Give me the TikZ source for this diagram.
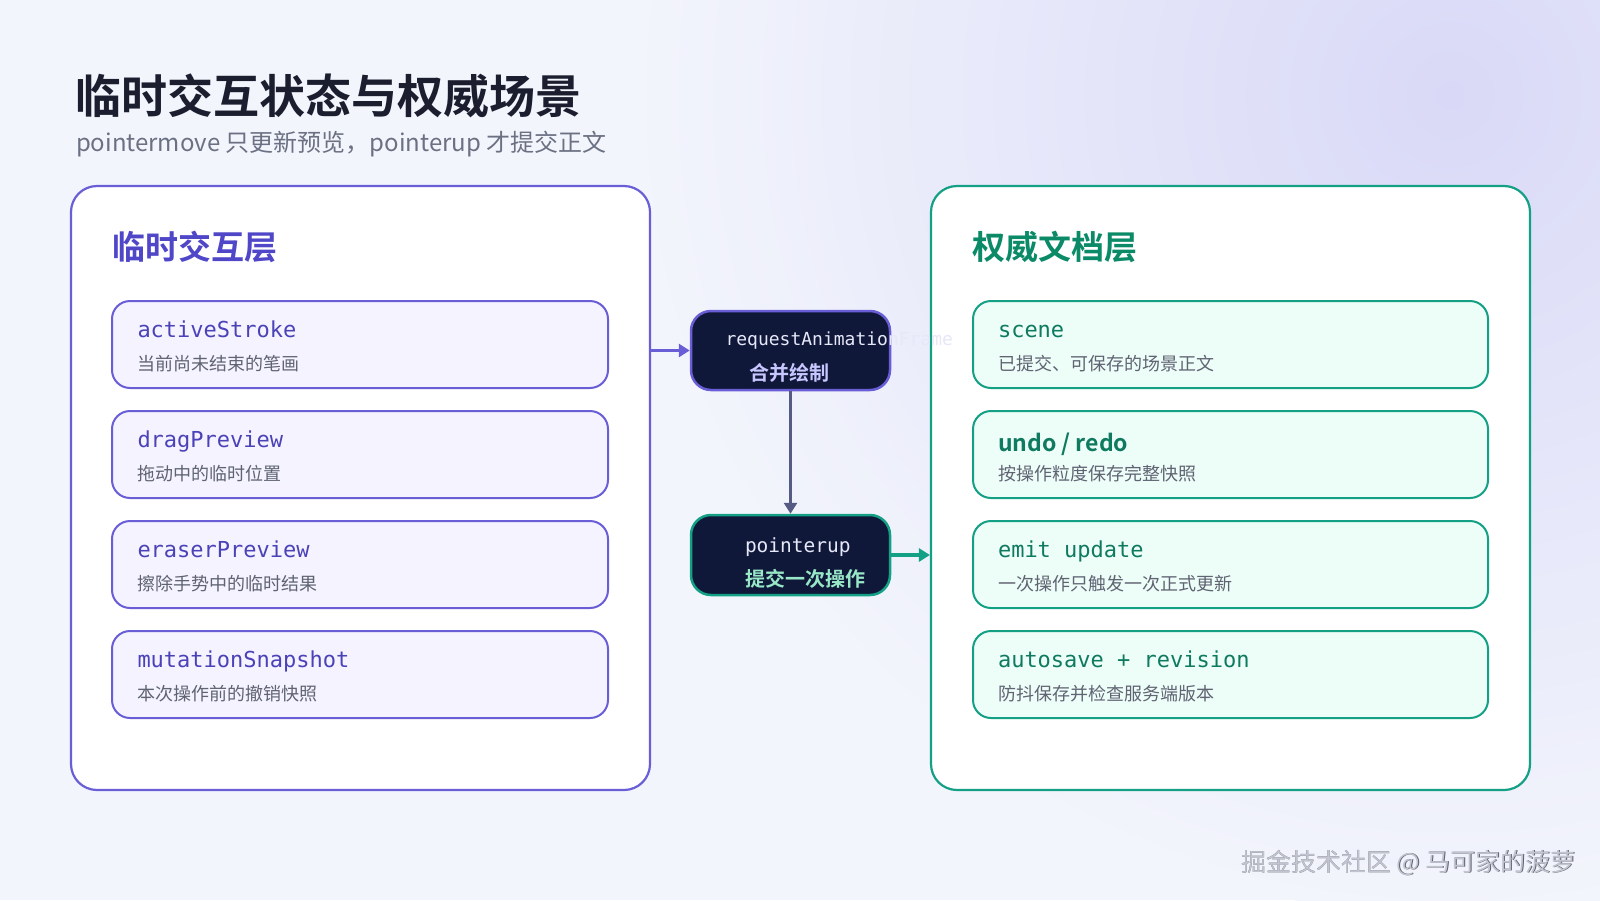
\documentclass[tikz,border=0pt]{standalone}
\usepackage{fontspec}
\setmainfont{Noto Sans}
\newfontfamily\cjk{Noto Sans CJK SC}[BoldFont={Noto Sans CJK SC Bold}]
\newfontfamily\mono{DejaVu Sans Mono}
\usetikzlibrary{arrows.meta}
\definecolor{bgc}{HTML}{F3F5FC}
\definecolor{glow}{HTML}{D9D9F7}
\definecolor{titlec}{HTML}{1B1E2E}
\definecolor{subc}{HTML}{6B7183}
\definecolor{lborder}{HTML}{6A5ED6}
\definecolor{lcardfill}{HTML}{F4F3FF}
\definecolor{lname}{HTML}{4B42B8}
\definecolor{ltitle}{HTML}{4F46C8}
\definecolor{graytext}{HTML}{5F6372}
\definecolor{gborder}{HTML}{13A085}
\definecolor{gcardfill}{HTML}{EDFDF8}
\definecolor{gname}{HTML}{0E7A5F}
\definecolor{gtitle}{HTML}{0B8A68}
\definecolor{nodefill}{HTML}{10183A}
\definecolor{midarrow}{HTML}{555B82}
\definecolor{lavtext}{HTML}{C8C6FF}
\definecolor{mint}{HTML}{98E8C8}
\definecolor{monowhite}{HTML}{E6E8F8}
\definecolor{wmshadow}{HTML}{5C5F6C}
\definecolor{wmmain}{HTML}{C2C4CF}
\tikzset{
  panel/.style={fill=white, line width=2.2pt, rounded corners=26pt, minimum height=604pt, inner sep=0},
  lcard/.style={draw=lborder, fill=lcardfill, line width=2pt, rounded corners=18pt, minimum width=496pt, minimum height=87pt, inner sep=0},
  gcard/.style={draw=gborder, fill=gcardfill, line width=2pt, rounded corners=18pt, minimum width=515pt, minimum height=87pt, inner sep=0},
  dnode/.style={fill=nodefill, line width=2.5pt, rounded corners=20pt, minimum width=199pt, minimum height=79pt, inner sep=0},
  txt/.style={anchor=base west, inner sep=0, outer sep=0},
  lnametxt/.style={txt, font=\mono\fontsize{22}{26}\selectfont, text=lname},
  gnametxt/.style={txt, font=\mono\fontsize{22}{26}\selectfont, text=gname},
  subtxt/.style={txt, font=\cjk\fontsize{18}{22}\selectfont, text=graytext},
  wmtxt/.style={txt, font=\cjk\fontsize{25}{30}\selectfont},
  flow/.style={line width=3.5pt, -{Triangle[length=11pt,width=13pt]}},
}
\begin{document}
\begin{tikzpicture}[x=1pt,y=-1pt]
\useasboundingbox (0,0) rectangle (1600,900);
% background
\begin{scope}
\clip (0,0) rectangle (1600,900);
\fill[bgc] (0,0) rectangle (1600,900);
\shade[inner color=glow, outer color=bgc] (1450,95) circle (820);
\end{scope}

% titles
\node[txt, font=\cjk\bfseries\fontsize{46}{52}\selectfont, text=titlec] (title) at (75,113) {临时交互状态与权威场景};
\node[txt, font=\cjk\fontsize{24}{28}\selectfont, text=subc] (subtitle) at (76,151) {pointermove 只更新预览，pointerup 才提交正文};

% panels
\node[panel, draw=lborder, minimum width=579pt] (lp) at (360.5,488) {};
\node[panel, draw=gborder, minimum width=599pt] (rp) at (1230.5,488) {};

\node[txt, font=\cjk\bfseries\fontsize{33}{38}\selectfont, text=ltitle] (ltit) at (112,259) {临时交互层};
\node[txt, font=\cjk\bfseries\fontsize{33}{38}\selectfont, text=gtitle] (rtit) at (972,259) {权威文档层};

% left cards
\node[lcard] (a1) at (360,344.5) {};
\node[lcard] (a2) at (360,454.5) {};
\node[lcard] (a3) at (360,564.5) {};
\node[lcard] (a4) at (360,674.5) {};
\node[lnametxt] (a1n) at (137.5,337) {activeStroke};
\node[subtxt] (a1s) at (137.5,370) {当前尚未结束的笔画};
\node[lnametxt] (a2n) at (137.5,447) {dragPreview};
\node[subtxt] (a2s) at (137.5,480) {拖动中的临时位置};
\node[lnametxt] (a3n) at (137.5,557) {eraserPreview};
\node[subtxt] (a3s) at (137.5,590) {擦除手势中的临时结果};
\node[lnametxt] (a4n) at (137.5,667) {mutationSnapshot};
\node[subtxt] (a4s) at (137.5,700) {本次操作前的撤销快照};

% right cards
\node[gcard] (b1) at (1230.5,344.5) {};
\node[gcard] (b2) at (1230.5,454.5) {};
\node[gcard] (b3) at (1230.5,564.5) {};
\node[gcard] (b4) at (1230.5,674.5) {};
\node[gnametxt] (b1n) at (998,337) {scene};
\node[subtxt] (b1s) at (998,370) {已提交、可保存的场景正文};
\node[txt, font=\cjk\bfseries\fontsize{23}{27}\selectfont, text=gname] (b2n) at (998,451) {undo / redo};
\node[subtxt] (b2s) at (998,480) {按操作粒度保存完整快照};
\node[gnametxt] (b3n) at (998,557) {emit update};
\node[subtxt] (b3s) at (998,590) {一次操作只触发一次正式更新};
\node[gnametxt] (b4n) at (998,667) {autosave + revision};
\node[subtxt] (b4s) at (998,700) {防抖保存并检查服务端版本};

% middle nodes
\node[dnode, draw=lborder] (raf) at (790.5,350.5) {};
\node[dnode, draw=gborder, minimum height=80pt] (pu) at (790.5,555) {};

% connectors
\draw[flow, lborder] (lp.east |- raf.west) -- (raf.west);
\draw[flow, midarrow] (raf.south) -- (pu.north);
\draw[flow, gborder] (pu.east) -- (pu.east -| rp.west);

% node texts
\node[txt, font=\mono\fontsize{18}{22}\selectfont, text=monowhite] (raft) at (725.5,345) {requestAnimationFrame};
\node[txt, font=\cjk\bfseries\fontsize{20}{24}\selectfont, text=lavtext] (rafc) at (749,380) {合并绘制};
\node[txt, font=\mono\fontsize{19.5}{24}\selectfont, text=monowhite] (put) at (745,552) {pointerup};
\node[txt, font=\cjk\bfseries\fontsize{20}{24}\selectfont, text=mint] (puc) at (745.5,586) {提交一次操作};

% watermark
\node[wmtxt, text=wmshadow] (wms) at (1241.9,871.9) {掘金技术社区 @ 马可家的菠萝};
\node[wmtxt, text=wmmain] (wm) at (1241,871) {掘金技术社区 @ 马可家的菠萝};
\end{tikzpicture}
\end{document}
